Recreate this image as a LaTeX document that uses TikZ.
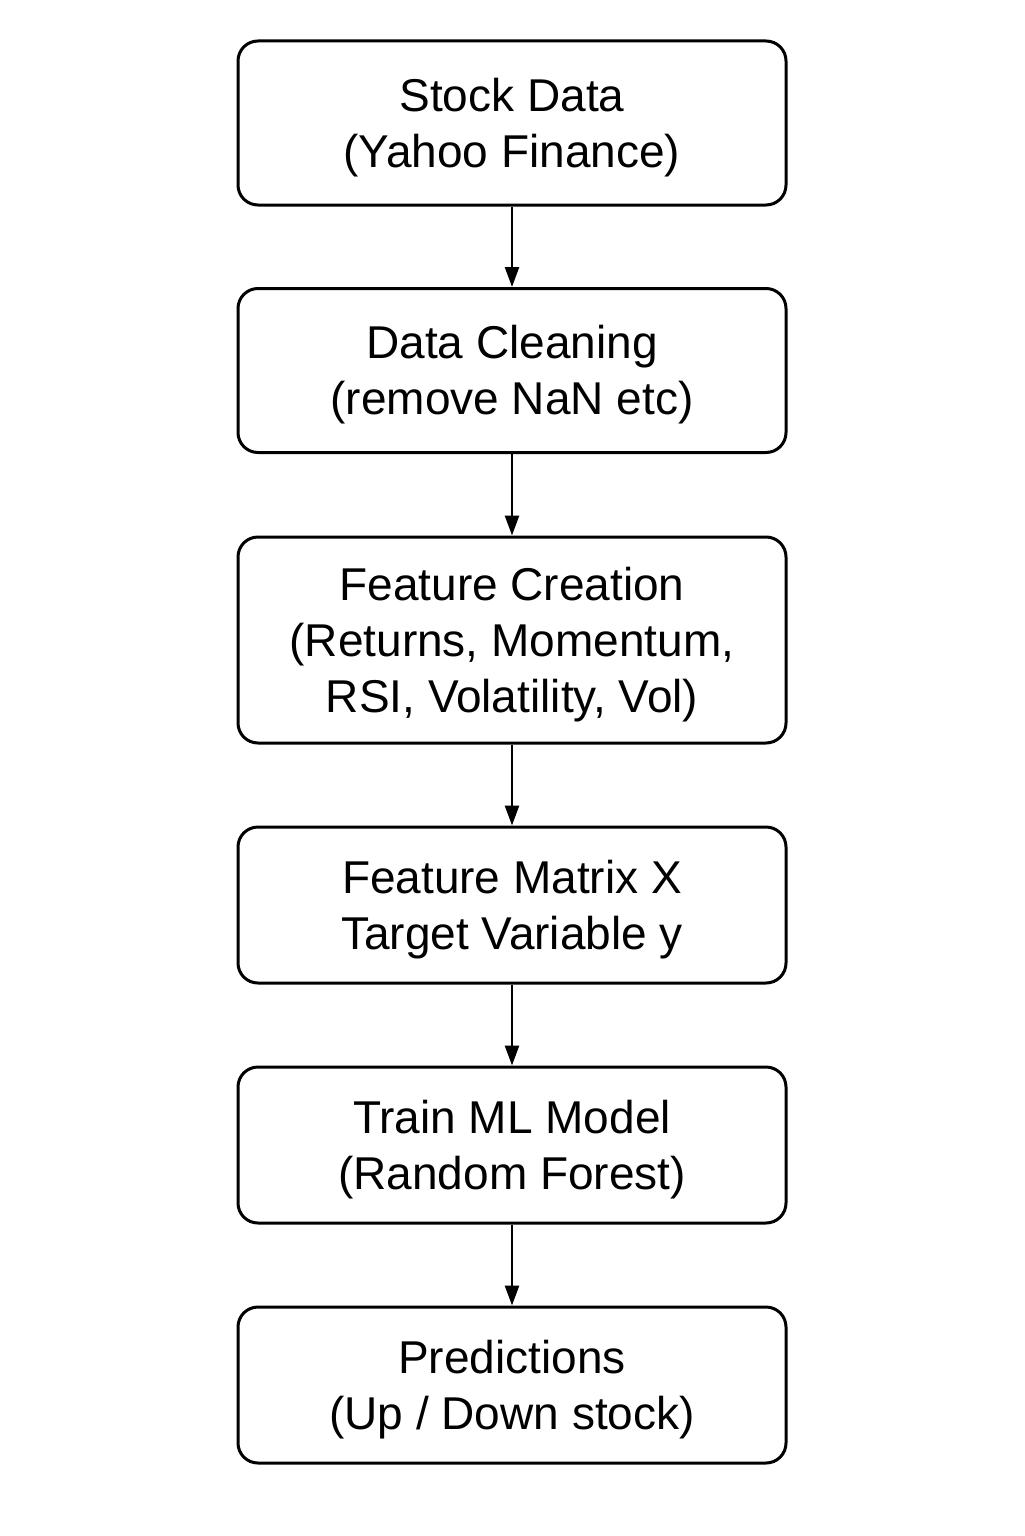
\documentclass[tikz,border=0pt]{standalone}
\usepackage{fontspec}
\setmainfont{Liberation Sans}
\usetikzlibrary{arrows.meta}

\begin{document}
\begin{tikzpicture}
    [x=0.5pt, y=-0.5pt,
     stage/.style={draw, rectangle, rounded corners=10pt, line width=1.5pt,
       minimum width=274pt, align=center, inner ysep=0pt,
       font=\fontsize{23}{28}\selectfont},
     flow/.style={line width=1.3pt, -{Triangle[length=10pt, width=7pt]}}]
    \useasboundingbox (0, 0) rectangle (1024, 1536);
    \node[stage, minimum height=82pt] (data) at (512, 123) {\rule{0pt}{21pt}Stock Data\\(Yahoo Finance)};
    \node[stage, minimum height=82pt] (clean) at (512, 370.5) {\rule{0pt}{21pt}Data Cleaning\\(remove NaN etc)};
    \node[stage, minimum height=103pt] (feat) at (512, 640) {\rule{0pt}{21pt}Feature Creation\\(Returns, Momentum,\\RSI, Volatility, Vol)};
    \node[stage, minimum height=78pt] (matrix) at (512, 905) {\rule{0pt}{21pt}Feature Matrix X\\Target Variable y};
    \node[stage, minimum height=78pt] (train) at (512, 1145) {\rule{0pt}{21pt}Train ML Model\\(Random Forest)};
    \node[stage, minimum height=78pt] (pred) at (512, 1385) {\rule{0pt}{21pt}Predictions\\(Up / Down stock)};
    \draw[flow] (data) -- (clean);
    \draw[flow] (clean) -- (feat);
    \draw[flow] (feat) -- (matrix);
    \draw[flow] (matrix) -- (train);
    \draw[flow] (train) -- (pred);
  \end{tikzpicture}
\end{document}
